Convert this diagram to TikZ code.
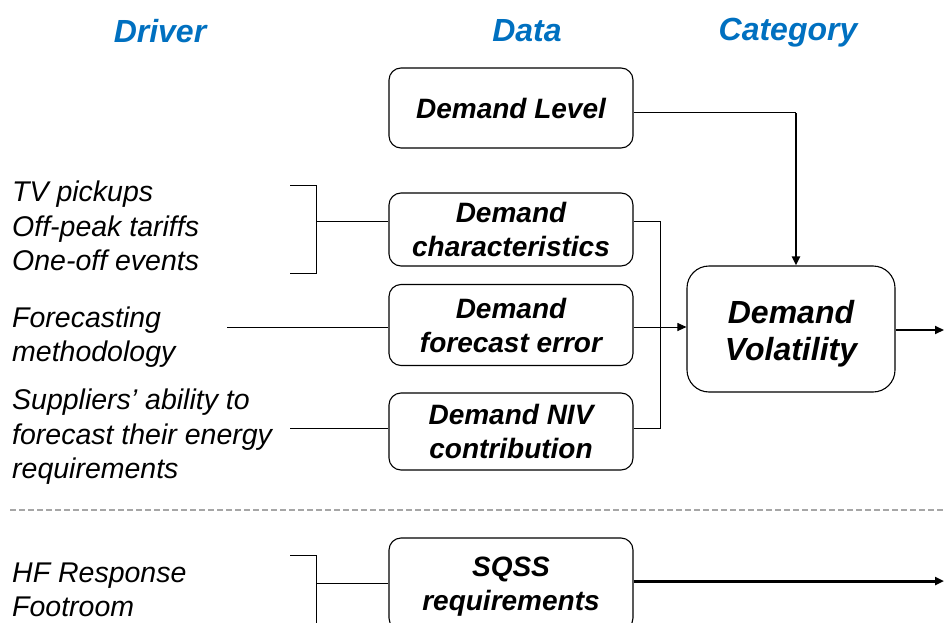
\documentclass[tikz,border=0pt]{standalone}
\usepackage{fontspec}
\setmainfont{Liberation Sans}
\usetikzlibrary{arrows.meta}
\definecolor{hdr}{RGB}{0,112,192}
\begin{document}
\begin{tikzpicture}[x=1pt,y=-1pt,
 box/.style={draw, line width=1.1pt, rounded corners=12pt, minimum width=244pt, align=center, font=\fontsize{28}{34}\selectfont\bfseries\itshape, inner sep=0pt},
 hdrtxt/.style={text=hdr, font=\fontsize{32}{38}\selectfont\bfseries\itshape, inner sep=0pt},
 drv/.style={anchor=west, align=left, font=\fontsize{28.5}{34.5}\selectfont\itshape, inner sep=0pt},
 ln/.style={line width=1pt},
 arr/.style={-{Triangle[length=9pt,width=8pt]}}
]
\useasboundingbox (0,0) rectangle (944,623);
\begin{scope}
\clip (0,0) rectangle (944,623);
% headers
\node[hdrtxt] (hDriver) at (160,31) {Driver};
\node[hdrtxt] (hData) at (527,31) {Data};
\node[hdrtxt] (hCat) at (788,33) {Category};
% data boxes
\node[box, minimum height=80pt] (lvl) at (511,108) {Demand Level};
\node[box, minimum height=73pt, text depth=0pt] (chr) at (511,229.5) {Demand\\characteristics};
\node[box, minimum height=81pt, text depth=0pt] (fce) at (511,325) {Demand\\forecast error};
\node[box, minimum height=77pt, text depth=0pt] (niv) at (511,431.5) {Demand NIV\\contribution};
\node[box, minimum height=92pt, text depth=0pt] (sqss) at (511,584) {SQSS\\requirements};
% category box
\node[box, minimum width=208pt, minimum height=126pt, rounded corners=22pt] (vol) at (791,329) {};
\node[align=center, inner sep=0pt, font=\fontsize{32}{37}\selectfont\bfseries\itshape] (volt) at ([yshift=-5pt]vol.center) {Demand\\Volatility};
% drivers
\node[drv] (d1) at (12,226) {TV pickups\\Off-peak tariffs\\One-off events};
\node[drv] (d2) at (12,337) {Forecasting\\methodology};
\node[drv] (d3) at (12,437) {Suppliers' ability to\\forecast their energy\\requirements};
\node[drv] (d4) at (12,590) {HF Response\\Footroom};
% coordinates
\coordinate (bus) at (660,0);
\coordinate (lvlx) at (796,0);
\coordinate (lvly) at (0,113);
\coordinate (chy) at (0,221);
\coordinate (nvy) at (0,428);
\coordinate (fm) at (227,327);
\coordinate (sp) at (290,428);
\coordinate (b1t) at (290,185);
\coordinate (b1m) at (316,221);
\coordinate (b1b) at (290,273);
\coordinate (b2t) at (290,555);
\coordinate (b2m) at (316,583);
\coordinate (b2b) at (316,640);
\coordinate (out1) at (944,330);
\coordinate (out2) at (944,581);
\coordinate (dl) at (10,510);
\coordinate (dr) at (944,510);
% connectors
\draw[ln] (lvl.east |- lvly) -- (lvlx |- lvly);
\draw[line width=2.4pt, arr] (lvlx |- lvly) -- (lvlx |- vol.north);
\draw[ln] (chr.east |- chy) -- (bus |- chy) -- (bus |- nvy) -- (niv.east |- nvy);
\draw[ln, arr] (fce.east |- fm) -- (vol.west |- fm);
\draw[line width=2pt, arr] (vol.east |- out1) -- (out1);
\draw[ln] (b1t) -- ++(26,0) -- ++(0,88) -- (b1b);
\draw[ln] (b1m) -- (chr.west |- b1m);
\draw[ln] (fm) -- (fce.west |- fm);
\draw[ln] (sp) -- (niv.west |- sp);
\draw[ln] (b2t) -- ++(26,0) -- (b2b);
\draw[ln] (b2m) -- (sqss.west |- b2m);
\draw[line width=3pt, arr] (sqss.east |- out2) -- (out2);
\draw[gray!70, line width=1.2pt, dash pattern=on 6pt off 3pt] (dl) -- (dr);
\end{scope}
\end{tikzpicture}
\end{document}
